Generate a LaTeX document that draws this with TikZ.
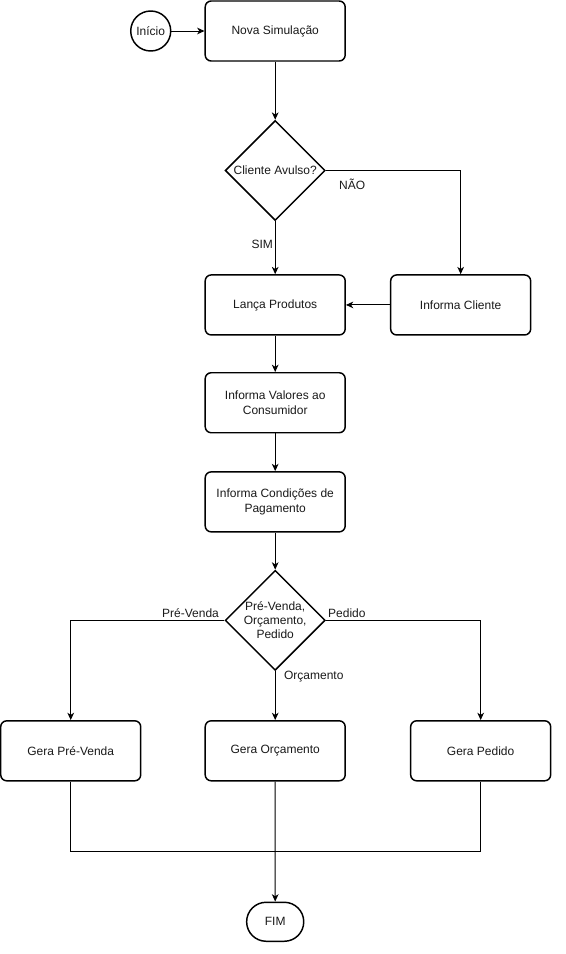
\documentclass[tikz,border=0pt]{standalone}
\usepackage{fontspec}
\setmainfont{Liberation Sans}
\usepackage{tikz}
\usetikzlibrary{positioning,arrows.meta,calc,shapes.geometric,shapes.misc}
\definecolor{cLine}{HTML}{000000}
\definecolor{cText}{HTML}{1A1A1A}
\tikzset{
  fc/box/.style  ={draw=cLine, line width=1.1pt, rounded corners=4.5pt, fill=white,
                   minimum width=105pt, minimum height=45pt, align=center, text=cText},
  fc/dec/.style  ={diamond, draw=cLine, line width=1.1pt, fill=white,
                   minimum width=75pt, minimum height=75pt, inner sep=0pt,
                   align=center, text=cText},
  fc/start/.style={circle, draw=cLine, line width=1.1pt, fill=white,
                   minimum size=30pt, inner sep=0pt, text=cText},
  fc/end/.style  ={rounded rectangle, draw=cLine, line width=1.1pt, fill=white,
                   minimum width=49.5pt, minimum height=29.25pt, text=cText},
  fc/arr/.style  ={-{Stealth[length=5.5pt, width=5pt, inset=1.6pt]}, line width=0.75pt, cLine},
  fc/line/.style ={line width=0.75pt, cLine},
  fc/lab/.style  ={inner sep=0pt, text=cText}
}

\begin{document}
\begin{tikzpicture}[
      every node/.style={font=\fontsize{9}{11}\selectfont}
  ]
    % --- main column ---
    \node[fc/box] (nova) {Nova Simulação};
    \node[fc/start, left=24.75pt of nova] (ini) {Início};
    \node[fc/dec, below=43.5pt of nova] (cli) {Cliente Avulso?};
    \node[fc/box, below=39.75pt of cli] (lanca) {Lança Produtos};
    \node[fc/box, right=33pt of lanca] (infcli) {Informa Cliente};
    \node[fc/box, below=27.25pt of lanca] (valores) {Informa Valores ao\\Consumidor};
    \node[fc/box, below=28.25pt of valores] (cond) {Informa Condições de\\Pagamento};
    \node[fc/dec, below=27.75pt of cond] (tipo) {Pré-Venda,\\[-0.5pt]Orçamento,\\[-0.5pt]Pedido};

    % --- outputs ---
    \node[fc/box, below=36.75pt of tipo] (orc) {Gera Orçamento};
    \node[fc/box, left=47.25pt of orc] (prev) {Gera Pré-Venda};
    \node[fc/box, right=48pt of orc] (ped) {Gera Pedido};
    \coordinate[below=52.5pt of orc.south] (junta);
    \node[fc/end, below=90pt of orc] (fim) {FIM};

    % --- branch labels ---
    \node[fc/lab, below right=6pt and 9.75pt of cli.east] (lnao) {NÃO};
    \node[fc/lab, below left=14pt and 1.5pt of cli.south] (lsim) {SIM};
    \node[fc/lab, above left=2pt and 4pt of tipo.west] (lpre) {Pré-Venda};
    \node[fc/lab, above right=2pt and 1.5pt of tipo.east] (lped) {Pedido};
    \node[fc/lab, below right=-0.5pt and 6.5pt of tipo.south] (lorc) {Orçamento};

    % --- arrows ---
    \draw[fc/arr] (ini) -- (nova);
    \draw[fc/arr] (nova) -- (cli);
    \draw[fc/arr] (cli) -- (lanca);
    \draw[fc/arr] (cli.east) -| (infcli.north);
    \draw[fc/arr] (infcli) -- (lanca);
    \draw[fc/arr] (lanca) -- (valores);
    \draw[fc/arr] (valores) -- (cond);
    \draw[fc/arr] (cond) -- (tipo);
    \draw[fc/arr] (tipo.west) -| (prev.north);
    \draw[fc/arr] (tipo.east) -| (ped.north);
    \draw[fc/arr] (tipo) -- (orc);
    \draw[fc/line] (prev.south) |- (junta) -| (ped.south);
    \draw[fc/arr] (orc) -- (fim);

    \useasboundingbox ($(nova.center)+(-205.5pt,23.25pt)$) rectangle ($(nova.center)+(217.5pt,-692.25pt)$);
  \end{tikzpicture}
\end{document}
